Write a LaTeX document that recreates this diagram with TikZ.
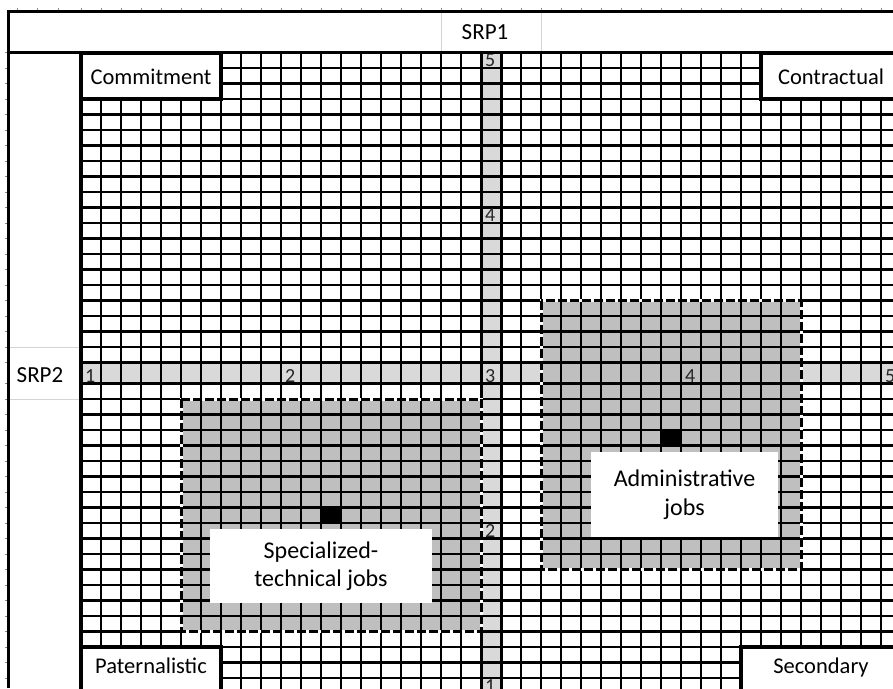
\documentclass[tikz,border=0pt]{standalone}
\usepackage{fontspec}
\setmainfont{Carlito}
\usepackage{xcolor}
\usepackage{tikz}
\usetikzlibrary{positioning}
\definecolor{ink}{HTML}{000000}
\definecolor{digitink}{HTML}{262626}
\definecolor{bandgray}{HTML}{D9D9D9}
\definecolor{zonegray}{HTML}{BFBFBF}
\definecolor{hairgray}{HTML}{D4D4D4}
\definecolor{tickgray}{HTML}{8C8C8C}
% left / top edge of a sheet column / row (px); row 20 is taller
\newcommand{\colx}[1]{81+20*(#1)}
\newcommand{\rowy}[1]{52.5+15.5*(#1)+5.5*((#1)>20.5)}
\tikzset{
  cellline/.style={draw=ink, line width=2.1pt},
  axisline/.style={draw=ink, line width=3pt},
  frameline/.style={draw=ink, line width=3.2pt},
  hairline/.style={draw=hairgray, line width=0.9pt},
  edgetick/.style={draw=tickgray, line width=1pt},
  zoneedge/.style={preaction={draw=white, solid, line width=3pt}, draw=ink, line width=3pt, dash pattern=on 9pt off 3pt},
  quadrant/.style={rectangle, draw=ink, line width=4pt, fill=white, inner sep=0pt, outer sep=0pt, anchor=north west, text height=18.5pt, font=\fontsize{22.5}{26}\selectfont},
  jobtag/.style={rectangle, fill=white, align=center, inner sep=0pt, font=\fontsize{24}{28.5}\selectfont},
  axislabel/.style={inner sep=0pt, font=\fontsize{23}{27}\selectfont},
  scalemark/.style={inner sep=0pt, anchor=base west, text=digitink, font=\fontsize{20}{23}\selectfont}
}

\begin{document}
\begin{tikzpicture}[x=1pt, y=-1pt]
  \useasboundingbox (0,0) rectangle (893,688);
  \clip (0,0) rectangle (893,688);
  \fill[white] (0,0) rectangle (893,688);
  % axis bands
  \fill[bandgray] ({\colx{20}},{\rowy{0}}) rectangle ({\colx{21}},{\rowy{41}});
  \fill[bandgray] ({\colx{0}},{\rowy{20}}) rectangle ({\colx{41}},{\rowy{21}});
  % job zones and their centres
  \fill[zonegray] ({\colx{5}},{\rowy{22}}) rectangle ({\colx{20}},{\rowy{37}});
  \fill[zonegray] ({\colx{23}},{\rowy{16}}) rectangle ({\colx{36}},{\rowy{33}});
  \fill[ink] ({\colx{12}},{\rowy{29}}) rectangle ({\colx{13}},{\rowy{30}});
  \fill[ink] ({\colx{29}},{\rowy{24}}) rectangle ({\colx{30}},{\rowy{25}});
  % cell grid
  \foreach \c in {0,...,41}
    \draw[cellline] ({\colx{\c}},{\rowy{0}}) -- ({\colx{\c}},{\rowy{41}});
  \foreach \r in {0,...,41}
    \draw[cellline] ({\colx{0}},{\rowy{\r}}) -- ({\colx{41}},{\rowy{\r}});
  \draw[axisline] ({\colx{20}},{\rowy{0}}) -- ({\colx{20}},{\rowy{41}})
                  ({\colx{21}},{\rowy{0}}) -- ({\colx{21}},{\rowy{41}})
                  ({\colx{0}},{\rowy{20}}) -- ({\colx{41}},{\rowy{20}})
                  ({\colx{0}},{\rowy{21}}) -- ({\colx{41}},{\rowy{21}});
  \draw[zoneedge] ({\colx{5}},{\rowy{22}}) rectangle ({\colx{20}},{\rowy{37}});
  \draw[zoneedge] ({\colx{23}},{\rowy{16}}) rectangle ({\colx{36}},{\rowy{33}});
  % scale marks on both axes
  \foreach \c/\v in {0/1,10/2,20/3,30/4,40/5}
    \node[scalemark] (h\v) at ({\colx{\c}+4},{\rowy{21}-1.5}) {\v};
  \foreach \r/\v in {0/5,10/4,30/2,40/1}
    \node[scalemark] (v\v) at ({\colx{20}+4},{\rowy{\r+1}-1.5}) {\v};
  % quadrant names
  \node[quadrant, minimum width=140pt, minimum height=46.5pt] (commit) at ({\colx{0}},{\rowy{0}}) {Commitment};
  \node[quadrant, minimum width=140pt, minimum height=46.5pt] (contract) at ({\colx{34}},{\rowy{0}}) {Contractual};
  \node[quadrant, minimum width=140pt, minimum height=46.5pt, text depth=13pt] (patern) at ({\colx{0}},{\rowy{38}}) {Paternalistic};
  \node[quadrant, minimum width=160pt, minimum height=46.5pt, text depth=13pt] (second) at ({\colx{33}},{\rowy{38}}) {Secondary};
  % job labels
  \node[jobtag, minimum width=222pt, minimum height=74pt] (spec) at (321,566) {Specialized-\\technical jobs};
  \node[jobtag, minimum width=187pt, minimum height=85pt] (admin) at (684.5,494.5) {Administrative\\jobs};
  % sheet frame and headers
  \draw[hairline] (441,13) -- (441,51) (541,13) -- (541,51);
  \draw[hairline] (10,{\rowy{19}}) -- (80,{\rowy{19}}) (10,{\rowy{22}}) -- (80,{\rowy{22}});
  \foreach \x in {17,37,58}
    \draw[edgetick] (\x,8) -- (\x,10);
  \foreach \c in {0,...,40}
    \draw[edgetick] ({\colx{\c}},8) -- ({\colx{\c}},10);
  \foreach \r in {0,...,40}
    \draw[edgetick] (5,{\rowy{\r}}) -- (7,{\rowy{\r}});
  \draw[frameline] (8.5,688) -- (8.5,11.5) -- (893,11.5);
  \draw[frameline] (8.5,{\rowy{0}}) -- (893,{\rowy{0}});
  \draw[frameline] ({\colx{0}},{\rowy{0}}) -- ({\colx{0}},688);
  \node[axislabel] (srp1) at (485,32) {SRP1};
  \node[axislabel] (srp2) at (40,375) {SRP2};
\end{tikzpicture}
\end{document}
